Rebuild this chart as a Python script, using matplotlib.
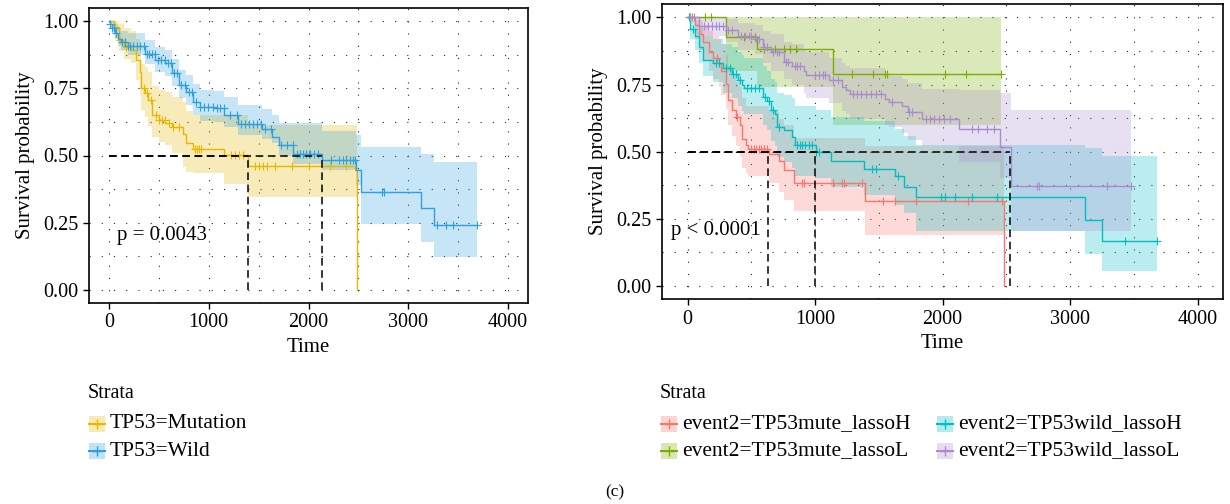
import numpy as np
import matplotlib
matplotlib.use("Agg")
import matplotlib.pyplot as plt
from matplotlib.patches import Rectangle
from matplotlib.lines import Line2D
from matplotlib.ticker import MultipleLocator

plt.rcParams['font.family'] = ['Liberation Serif', 'DejaVu Serif']

# ---------------- Data: left panel (TP53) ----------------
mut_time = [0, 48, 100, 152, 221, 272, 307, 324, 359, 393, 428, 497, 566, 634, 738, 772, 841, 1152, 1393, 2462, 2490]
mut_surv = [1, .98, .93, .906, .894, .857, .813, .75, .732, .707, .65, .632, .62, .607, .582, .545, .526, .501, .461, .445, 0]
mut_upper = [1, 1, .99, .975, .965, .935, .9, .84, .83, .81, .76, .745, .735, .72, .70, .665, .65, .65, .613, .613, .613]
mut_lower = [1, .94, .89, .86, .845, .78, .73, .67, .645, .61, .57, .55, .54, .51, .458, .44, .433, .395, .345, .345, .345]
mut_end = 2490
mut_cens = [60, 110, 170, 350, 380, 420, 470, 500, 530, 560, 600, 640, 700, 860, 880, 900, 920, 1220, 1260, 1300,
            1340, 1460, 1500, 1540, 1580, 1660, 1830, 2010, 2220, 2380]

wild_time = [0, 10, 30, 60, 90, 117, 186, 359, 462, 566, 634, 703, 772, 841, 910, 1048, 1152, 1290, 1531, 1634, 1703,
             1841, 2134, 2479, 2531, 3124, 3262]
wild_surv = [1, .99, .975, .955, .935, .925, .91, .88, .857, .844, .807, .763, .738, .70, .682, .676, .65, .617, .60,
             .57, .539, .507, .483, .445, .364, .303, .24]
wild_upper = [1, 1, 1, .99, .975, .965, .955, .93, .905, .895, .86, .82, .80, .765, .745, .74, .72, .69, .675, .65,
              .62, .62, .59, .576, .53, .507, .476]
wild_lower = [1, .98, .96, .935, .91, .895, .875, .84, .81, .795, .76, .715, .69, .65, .63, .625, .607, .575, .56,
              .545, .50, .47, .445, .39, .245, .177, .12]
wild_end = 3686
wild_cens = [10, 30, 50, 70, 130, 160, 190, 210, 240, 280, 310, 350, 380, 400, 430, 460, 490, 520, 560, 590, 620, 650,
             680, 720, 760, 800, 830, 870, 910, 950, 990, 1040, 1080, 1110, 1150, 1210, 1280, 1320, 1360, 1400, 1440,
             1480, 1520, 1560, 1620, 1720, 1780, 1840, 1880, 1910, 1940, 1970, 2000, 2020, 2060, 2100, 2230, 2310,
             2350, 2380, 2420, 2450, 2470, 2740, 2760, 3285, 3380, 3450, 3686]

left_labels = ["TP53=Mutation", "TP53=Wild"]
left_colors = ["#E7B800", "#2E9FDF"]
left_pval = "p = 0.0043"

# ---------------- Data: right panel (event2) ----------------
mH_time = [0, 55, 88, 120, 169, 201, 250, 266, 299, 315, 347, 380, 412, 429, 461, 477, 640, 721, 753, 834, 1396, 2480]
mH_surv = [1, .97, .94, .91, .87, .85, .83, .80, .753, .691, .654, .629, .598, .548, .523, .511, .492, .467, .43,
           .382, .318, 0]
mH_upper = [1, 1, .99, .97, .95, .93, .92, .90, .86, .82, .79, .76, .74, .70, .67, .67, .65, .62, .60, .55, .52, .52]
mH_lower = [1, .92, .88, .84, .80, .77, .74, .71, .66, .60, .56, .52, .48, .44, .42, .41, .385, .35, .32, .28, .19, .19]
mH_end = 2480
mH_cens = [20, 35, 235, 390, 500, 520, 540, 560, 580, 600, 620, 900, 915, 1143, 1208, 1224, 1370, 1532, 1630, 1792,
           2198, 2470]

mL_time = [0, 300, 542, 1143]
mL_surv = [1, .928, .884, .788]
mL_upper = [1, 1, 1, 1]
mL_lower = [1, .80, .74, .60]
mL_end = 2458
mL_cens = [136, 185, 445, 526, 600, 688, 753, 802, 851, 1289, 1451, 1549, 1565, 2019, 2182, 2458]

wH_time = [0, 23, 55, 88, 120, 201, 282, 347, 396, 429, 445, 591, 623, 656, 688, 705, 753, 818, 844, 1006, 1127,
           1386, 1630, 1695, 1792, 3117, 3253]
wH_surv = [1, .958, .93, .89, .843, .83, .81, .79, .766, .75, .738, .704, .69, .654, .64, .59, .58, .554, .523, .498,
           .467, .436, .408, .367, .33, .247, .166]
wH_upper = [1, 1, .99, .96, .93, .92, .90, .89, .87, .86, .85, .82, .80, .77, .76, .72, .71, .70, .67, .654, .63,
            .616, .585, .56, .523, .513, .482]
wH_lower = [1, .92, .88, .83, .78, .76, .72, .70, .67, .65, .64, .60, .58, .54, .52, .48, .46, .44, .41, .40, .37,
            .34, .30, .27, .205, .118, .056]
wH_end = 3682
wH_cens = [10, 40, 220, 250, 300, 330, 360, 380, 410, 470, 500, 530, 560, 610, 640, 670, 720, 860, 880, 900, 920,
           950, 980, 1010, 1030, 1450, 1480, 1650, 1987, 2019, 2100, 2230, 2425, 3432, 3682]

wL_time = [0, 88, 299, 396, 526, 591, 656, 753, 818, 916, 932, 1110, 1208, 1240, 1273, 1549, 1581, 1679, 1727, 1841,
           2133, 2451, 2539]
wL_surv = [1, .968, .955, .93, .92, .89, .87, .834, .82, .80, .785, .766, .74, .73, .716, .697, .685, .669, .648,
           .623, .583, .519, .371]
wL_upper = [1, 1, .995, .98, .97, .95, .94, .91, .90, .88, .87, .85, .83, .82, .81, .79, .78, .77, .755, .735, .73,
            .72, .654]
wL_lower = [1, .93, .91, .88, .865, .83, .80, .77, .75, .72, .70, .68, .65, .64, .62, .60, .59, .57, .545, .52, .46,
            .40, .205]
wL_end = 3481
wL_cens = [20, 50, 130, 160, 190, 220, 250, 280, 320, 350, 420, 450, 480, 500, 540, 560, 600, 620, 670, 700, 720,
           770, 790, 840, 860, 880, 1000, 1030, 1060, 1080, 1140, 1180, 1300, 1330, 1360, 1400, 1440, 1480, 1520,
           1600, 1740, 1760, 1870, 1900, 1930, 1970, 2010, 2060, 2230, 2280, 2350, 2400, 2740, 2760, 3290, 3481]

right_labels = ["event2=TP53mute_lassoH", "event2=TP53mute_lassoL", "event2=TP53wild_lassoH", "event2=TP53wild_lassoL"]
right_colors = ["#F8766D", "#7CAE00", "#00BFC4", "#A98BD0"]
right_pval = "p < 0.0001"

W, H = 1230, 504
fig = plt.figure(figsize=(W / 100, H / 100), dpi=100)


def km(ax, t, s, up, lo, end, cens, color):
    t = np.array(t, float); s = np.array(s, float)
    up = np.array(up, float); lo = np.array(lo, float)
    if end > t[-1]:
        tx = np.append(t, end); sx = np.append(s, s[-1])
        ux = np.append(up, up[-1]); lx = np.append(lo, lo[-1])
    else:
        tx, sx, ux, lx = t, s, up, lo
    ax.fill_between(tx, lx, ux, step='post', color=color, alpha=0.27, lw=0)
    ax.step(tx, sx, where='post', color=color, lw=1.0)
    c = np.array(cens, float)
    idx = np.searchsorted(t, c, side='right') - 1
    ax.plot(c, s[idx], ls='none', marker='+', ms=6, mew=0.8, color=color)


def style(ax):
    ax.set_xlim(-200, 4200)
    ax.set_ylim(-0.05, 1.05)
    ax.xaxis.set_major_locator(MultipleLocator(1000))
    ax.xaxis.set_minor_locator(MultipleLocator(500))
    ax.yaxis.set_major_locator(MultipleLocator(0.25))
    ax.yaxis.set_minor_locator(MultipleLocator(0.125))
    ax.set_yticks([0, .25, .5, .75, 1.0])
    ax.set_yticklabels(["0.00", "0.25", "0.50", "0.75", "1.00"])
    ax.grid(which='both', color='#222222', linestyle=(0, (1, 10)), linewidth=0.8)
    ax.set_axisbelow(True)
    ax.tick_params(which='major', length=4, width=1, labelsize=14.5, color='black')
    ax.tick_params(which='minor', length=0)
    for sp in ax.spines.values():
        sp.set_linewidth(1.2)
    ax.set_xlabel("Time", fontsize=15, labelpad=4)
    ax.set_ylabel("Survival probability", fontsize=15, labelpad=6)


def medians(ax, meds):
    for m in meds:
        ax.plot([0, m], [0.5, 0.5], color='black', lw=1.1, ls=(0, (5, 3)))
        ax.plot([m, m], [0, 0.5], color='black', lw=1.1, ls=(0, (5, 3)))


# Left panel
axL = fig.add_axes([89 / W, 1 - 303 / H, (528 - 89) / W, (303 - 8) / H])
km(axL, mut_time, mut_surv, mut_upper, mut_lower, mut_end, mut_cens, left_colors[0])
km(axL, wild_time, wild_surv, wild_upper, wild_lower, wild_end, wild_cens, left_colors[1])
medians(axL, [1393, 2134])
axL.text(80, 0.2, left_pval, fontsize=15, ha='left', va='center')
style(axL)

# Right panel
axR = fig.add_axes([662 / W, 1 - 299.3 / H, (1223 - 662) / W, (299.3 - 4) / H])
groups = [
    (mH_time, mH_surv, mH_upper, mH_lower, mH_end, mH_cens),
    (mL_time, mL_surv, mL_upper, mL_lower, mL_end, mL_cens),
    (wH_time, wH_surv, wH_upper, wH_lower, wH_end, wH_cens),
    (wL_time, wL_surv, wL_upper, wL_lower, wL_end, wL_cens),
]
for g, col in zip(groups, right_colors):
    km(axR, *g, col)
medians(axR, [633, 1003, 2529])
axR.text(-130, 0.205, right_pval, fontsize=15, ha='left', va='center')
style(axR)


# Legends (manual, in pixel positions)
def key(x, y, color, label):
    kw, kh = 16, 16
    fig.add_artist(Rectangle((x / W, 1 - (y + kh / 2) / H), kw / W, kh / H, transform=fig.transFigure,
                             facecolor=color, alpha=0.3, lw=0))
    fig.add_artist(Line2D([x / W, (x + kw) / W], [1 - y / H, 1 - y / H], transform=fig.transFigure,
                          color=color, lw=1.5))
    fig.add_artist(Line2D([(x + kw / 2) / W], [1 - y / H], transform=fig.transFigure, color=color,
                          marker='+', ms=7, mew=1.0, ls='none'))
    fig.text((x + kw + 5) / W, 1 - y / H, label, fontsize=15.5, ha='left', va='center')


fig.text(88 / W, 1 - 393 / H, "Strata", fontsize=14.5, ha='left', va='center')
key(89, 424, left_colors[0], left_labels[0])
key(89, 451, left_colors[1], left_labels[1])

fig.text(660 / W, 1 - 393 / H, "Strata", fontsize=14.5, ha='left', va='center')
key(661, 424, right_colors[0], right_labels[0])
key(661, 451, right_colors[1], right_labels[1])
key(937, 424, right_colors[2], right_labels[2])
key(937, 451, right_colors[3], right_labels[3])

fig.text(615 / W, 1 - 492 / H, "(c)", fontsize=12.5, ha='center', va='center')

fig.savefig("out.png", dpi=100)
